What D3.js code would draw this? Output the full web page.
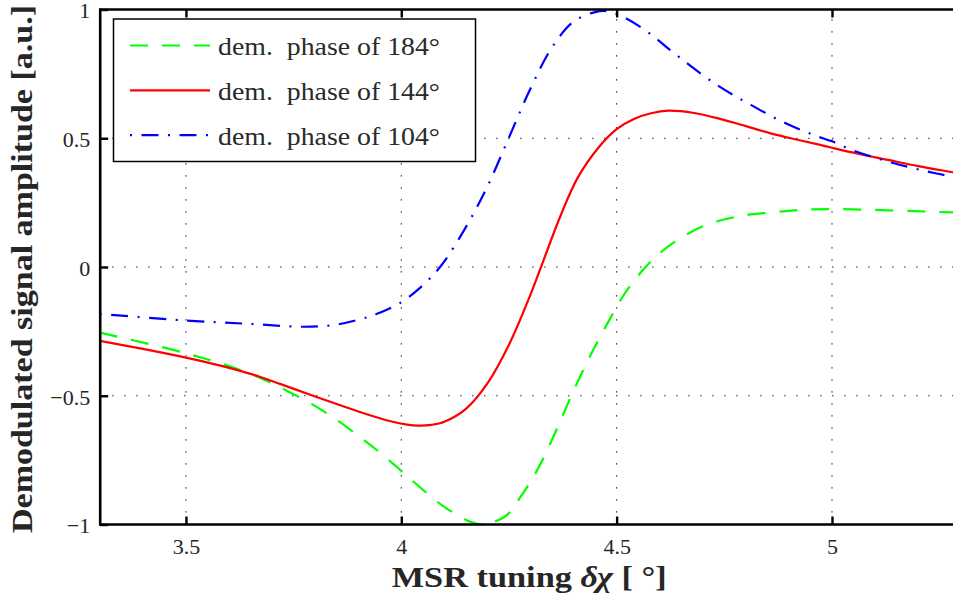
<!DOCTYPE html>
<html>
<head>
<meta charset="utf-8">
<script src="https://cdn.jsdelivr.net/npm/d3@7"></script>
<style>
  html, body { margin: 0; padding: 0; background: #fff; overflow: hidden; }
  svg { display: block; }
</style>
</head>
<body>
<svg id="chart" width="953" height="598"></svg>
<script>
// Demodulated signal vs. MSR tuning for three demodulation phases
const xTicks = [3.5, 4, 4.5, 5];
const yTicks = [-1, -0.5, 0, 0.5, 1];

const xPhase184 = [3.30, 3.50, 3.65, 3.77, 3.84, 3.90, 3.95, 4.00, 4.05, 4.11, 4.18, 4.24, 4.28, 4.32, 4.36, 4.40, 4.44, 4.48, 4.52, 4.57, 4.62, 4.70, 4.78, 4.86, 4.93, 5.01, 5.13, 5.28, 5.30];
const yPhase184 = [-0.255, -0.335, -0.415, -0.512, -0.582, -0.655, -0.720, -0.792, -0.865, -0.943, -0.998, -0.970, -0.885, -0.775, -0.633, -0.480, -0.340, -0.215, -0.100, 0.005, 0.080, 0.158, 0.196, 0.212, 0.222, 0.225, 0.220, 0.212, 0.211];

const xPhase144 = [3.30, 3.40, 3.50, 3.58, 3.65, 3.72, 3.79, 3.86, 3.92, 3.97, 4.01, 4.04, 4.07, 4.10, 4.15, 4.20, 4.25, 4.30, 4.33, 4.37, 4.41, 4.46, 4.50, 4.54, 4.58, 4.62, 4.68, 4.74, 4.80, 4.86, 4.92, 4.97, 5.00, 5.06, 5.13, 5.20, 5.28, 5.30];
const yPhase144 = [-0.287, -0.318, -0.352, -0.383, -0.415, -0.455, -0.497, -0.538, -0.572, -0.597, -0.611, -0.616, -0.613, -0.601, -0.551, -0.452, -0.302, -0.107, 0.025, 0.200, 0.348, 0.468, 0.535, 0.575, 0.597, 0.607, 0.598, 0.575, 0.547, 0.518, 0.494, 0.475, 0.463, 0.440, 0.416, 0.392, 0.368, 0.362];

const xPhase104 = [3.30, 3.50, 3.65, 3.77, 3.84, 3.90, 3.95, 4.00, 4.04, 4.09, 4.15, 4.20, 4.25, 4.30, 4.35, 4.40, 4.45, 4.48, 4.52, 4.58, 4.62, 4.73, 4.81, 4.89, 4.97, 5.00, 5.05, 5.14, 5.24, 5.30];
const yPhase104 = [-0.182, -0.208, -0.221, -0.232, -0.226, -0.205, -0.178, -0.137, -0.086, 0.000, 0.155, 0.313, 0.503, 0.693, 0.853, 0.953, 0.990, 0.993, 0.967, 0.903, 0.848, 0.710, 0.631, 0.560, 0.505, 0.488, 0.452, 0.405, 0.364, 0.345];

const seriesLabels = ["dem.  phase of 184°", "dem.  phase of 144°", "dem.  phase of 104°"];
const seriesColors = ["#00ff00", "#ff0000", "#0000ff"];
const seriesDash = ["18,14", null, "2,9.5,17,9.5"];

// choose the first installed serif face from a list
function pickFont(candidates, weight) {
  const ctx = document.createElement("canvas").getContext("2d");
  const probe = "dem. phase of 0123456789 MSR tuning Dq";
  const width = f => { ctx.font = `${weight} 40px ${f}`; return ctx.measureText(probe).width; };
  for (const c of candidates) {
    if (width(`"${c}", monospace`) !== width("monospace") ||
        width(`"${c}", sans-serif`) !== width("sans-serif")) return `"${c}"`;
  }
  return "serif";
}
const serifCandidates = ["Liberation Serif", "Tinos", "Times New Roman", "Nimbus Roman", "DejaVu Serif", "Noto Serif"];
const fontRegular = pickFont(serifCandidates, "normal");
const fontBold = pickFont(serifCandidates, "bold");

const svg = d3.select("#chart");
const plotLeft = 100.2, plotTop = 9.5, plotBottom = 524.5;
const x = d3.scaleLinear().domain([3.3, 5.3]).range([99.8, 961.2]);
const y = d3.scaleLinear().domain([-1, 1]).range([plotBottom, plotTop]);
const plotRight = x(5.3);

svg.append("defs").append("clipPath").attr("id", "plotClip")
  .append("rect").attr("x", plotLeft).attr("y", plotTop)
  .attr("width", plotRight - plotLeft).attr("height", plotBottom - plotTop);

// dotted grid
const grid = svg.append("g").attr("stroke", "#000").attr("stroke-width", 1.1)
  .attr("stroke-dasharray", "1.3,10.7");
grid.selectAll(".gx").data(xTicks).join("line")
  .attr("x1", d => x(d)).attr("x2", d => x(d)).attr("y1", plotBottom).attr("y2", plotTop);
grid.selectAll(".gy").data(yTicks.filter(d => d > -1 && d < 1)).join("line")
  .attr("y1", d => y(d)).attr("y2", d => y(d)).attr("x1", plotLeft).attr("x2", plotRight);

// curves
const xs = [xPhase184, xPhase144, xPhase104];
const ys = [yPhase184, yPhase144, yPhase104];
const line = d3.line().x(d => x(d[0])).y(d => y(d[1])).curve(d3.curveCatmullRom.alpha(0.5));
const curves = svg.append("g").attr("clip-path", "url(#plotClip)");
xs.forEach((xa, i) => {
  curves.append("path")
    .datum(xa.map((v, j) => [v, ys[i][j]]))
    .attr("d", line)
    .attr("fill", "none")
    .attr("stroke", seriesColors[i])
    .attr("stroke-width", 2.2)
    .attr("stroke-dasharray", seriesDash[i])
    .attr("stroke-linejoin", "round");
});

// axes with inward ticks
const fmt = d3.format("");
const xAxis = svg.append("g").attr("transform", `translate(0,${plotBottom})`)
  .call(d3.axisBottom(x).tickValues(xTicks).tickSize(-8).tickSizeOuter(0).tickPadding(14).tickFormat(fmt));
const xAxisTop = svg.append("g").attr("transform", `translate(0,${plotTop})`)
  .call(d3.axisTop(x).tickValues(xTicks).tickSize(-8).tickSizeOuter(0).tickFormat(""));
const yAxis = svg.append("g").attr("transform", `translate(${plotLeft},0)`)
  .call(d3.axisLeft(y).tickValues(yTicks).tickSize(-8).tickSizeOuter(0).tickPadding(10).tickFormat(fmt));
[xAxis, xAxisTop, yAxis].forEach(g => {
  g.select(".domain").remove();
  g.attr("font-family", fontRegular);
  g.selectAll(".tick line").attr("stroke", "#000").attr("stroke-width", 2.4);
  g.selectAll(".tick text").attr("font-size", 22).attr("fill", "#262626")
    .attr("font-family", fontRegular);
});
yAxis.selectAll(".tick text").attr("dy", "0.38em");

// spines
const spines = svg.append("g").attr("stroke", "#000").attr("stroke-width", 2.6).attr("fill", "none");
spines.append("line").attr("x1", plotLeft).attr("x2", plotLeft).attr("y1", plotTop - 1.3).attr("y2", plotBottom + 1.3);
spines.append("line").attr("x1", plotLeft).attr("x2", plotRight).attr("y1", plotBottom).attr("y2", plotBottom);
spines.append("line").attr("x1", plotLeft).attr("x2", plotRight).attr("y1", plotTop).attr("y2", plotTop);

// legend
const lg = svg.append("g");
lg.append("rect").attr("x", 113.5).attr("y", 19).attr("width", 362).attr("height", 142.5)
  .attr("fill", "#fff").attr("stroke", "#000").attr("stroke-width", 1.5);
seriesLabels.forEach((lab, i) => {
  const cy = 45.5 + i * 44.8;
  lg.append("line").attr("x1", 130).attr("x2", 210).attr("y1", cy).attr("y2", cy)
    .attr("stroke", seriesColors[i]).attr("stroke-width", 2.2)
    .attr("stroke-dasharray", seriesDash[i]);
  lg.append("text").attr("x", 218).attr("y", cy + 9.5)
    .attr("font-family", fontRegular).attr("fill", "#2a2a2a")
    .attr("font-size", 26).attr("textLength", 222).attr("lengthAdjust", "spacingAndGlyphs")
    .style("white-space", "pre")
    .text(lab);
});

// axis titles
const xt = svg.append("text").attr("x", 391.7).attr("y", 586.5)
  .attr("font-family", fontBold).attr("fill", "#262626")
  .attr("font-size", 30).attr("font-weight", "bold")
  .attr("textLength", 275).attr("lengthAdjust", "spacingAndGlyphs");
xt.append("tspan").text("MSR tuning ");
xt.append("tspan").attr("font-style", "italic").text("δχ");
xt.append("tspan").text(" [ °]");

svg.append("text")
  .attr("transform", "translate(32,533) rotate(-90)")
  .attr("font-family", fontBold).attr("fill", "#262626")
  .attr("font-size", 30).attr("font-weight", "bold")
  .attr("textLength", 528).attr("lengthAdjust", "spacingAndGlyphs")
  .text("Demodulated signal amplitude [a.u.]");
</script>
</body>
</html>
